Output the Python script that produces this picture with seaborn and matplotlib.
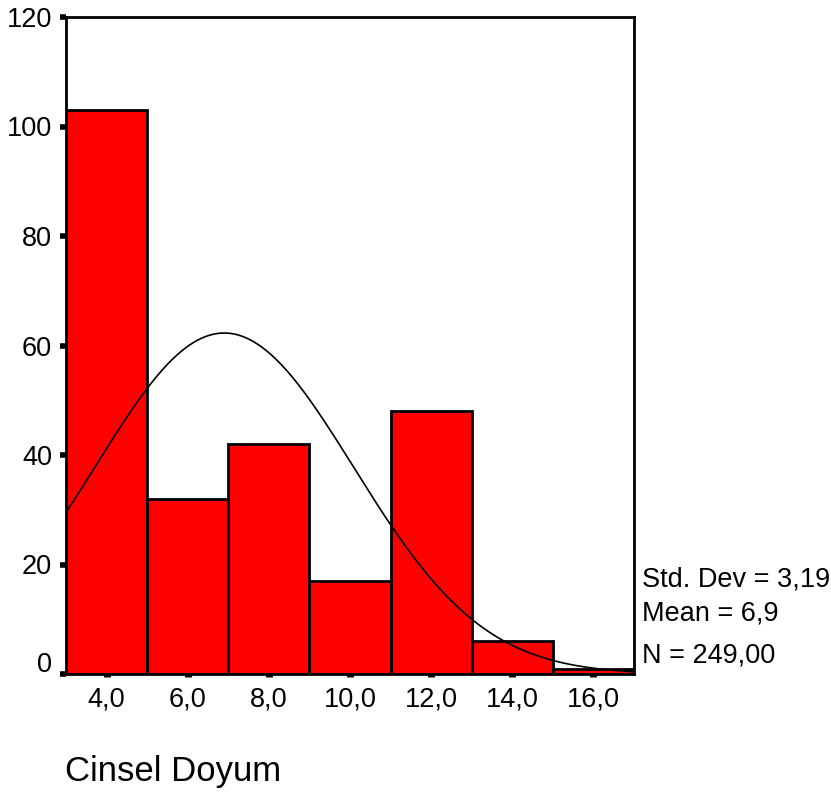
import numpy as np
import pandas as pd
import matplotlib
matplotlib.use("Agg")
import matplotlib.pyplot as plt
import matplotlib.transforms as mtransforms
import seaborn as sns

# Data
bin_centers = [4, 6, 8, 10, 12, 14, 16]
counts = [103, 32, 42, 17, 48, 6, 1]
bin_edges = [3, 5, 7, 9, 11, 13, 15, 17]
x_tick_values = [4, 6, 8, 10, 12, 14, 16]
x_tick_labels = ["4,0", "6,0", "8,0", "10,0", "12,0", "14,0", "16,0"]
y_tick_values = [0, 20, 40, 60, 80, 100, 120]
stat_mean = 6.9
stat_sd = 3.19
stat_n = 249
stats_lines = ["Std. Dev = 3,19", "Mean = 6,9", "N = 249,00"]
x_title = "Cinsel Doyum"

sns.set_style("white")
plt.rcParams["font.family"] = ["Liberation Sans", "DejaVu Sans"]
plt.rcParams["text.color"] = "black"
plt.rcParams["xtick.color"] = "black"
plt.rcParams["ytick.color"] = "black"

fig = plt.figure(figsize=(8.31, 7.93), dpi=100)
ax = fig.add_axes([66 / 831, 1 - 674 / 793, (634 - 66) / 831, (674 - 17) / 793])

df = pd.DataFrame({"x": bin_centers, "n": counts})
sns.histplot(data=df, x="x", weights="n", bins=bin_edges, color="#ff0000",
             edgecolor="black", linewidth=2, alpha=1, ax=ax)

# Fitted normal curve (from mean, sd, N and bin width)
bw = bin_edges[1] - bin_edges[0]
xs = np.linspace(bin_edges[0], bin_edges[-1], 300)
ys = stat_n * bw * np.exp(-0.5 * ((xs - stat_mean) / stat_sd) ** 2) / (stat_sd * np.sqrt(2 * np.pi))
sns.lineplot(x=xs, y=ys, color="black", linewidth=1.2, ax=ax)

ax.set_xlim(bin_edges[0], bin_edges[-1])
ax.set_ylim(0, 120)
ax.set_xticks(x_tick_values)
ax.set_xticklabels(x_tick_labels)
ax.set_yticks(y_tick_values)
ax.set_xlabel("")
ax.set_ylabel("")
for s in ax.spines.values():
    s.set_visible(True)
    s.set_color("black")
    s.set_linewidth(2)

ax.tick_params(axis="x", direction="out", length=2.2, width=5, colors="black",
               pad=7, labelsize=19.5, bottom=True)
ax.tick_params(axis="y", direction="out", length=4, width=4, colors="black",
               pad=6, labelsize=19.5, left=True)

# SPSS places the "0" label slightly above its tick
ylabels = ax.get_yticklabels()
ylabels[0].set_transform(ylabels[0].get_transform() +
                         mtransforms.ScaledTranslation(0, 12 / 100, fig.dpi_scale_trans))

ys_txt = [580, 614, 655]
for t, yy in zip(stats_lines, ys_txt):
    fig.text(642 / 831, 1 - yy / 793, t, fontsize=19.5, va="center", ha="left", color="black")

fig.text(65 / 831, 1 - 772 / 793, x_title, fontsize=25, va="center", ha="left", color="black")

fig.savefig("out.png", dpi=100)
